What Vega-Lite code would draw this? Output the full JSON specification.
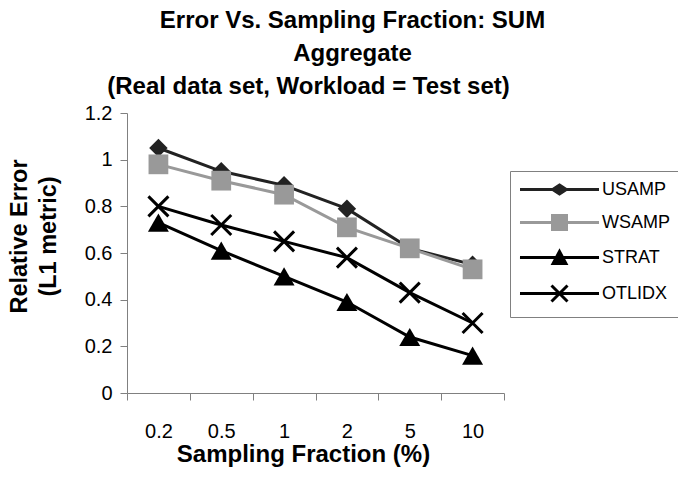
{
  "$schema": "https://vega.github.io/schema/vega-lite/v6.json",
  "width": 377,
  "height": 280,
  "autosize": "none",
  "padding": {"left": 127, "top": 113, "right": 174, "bottom": 86},
  "background": "white",
  "title": {
    "text": ["Error Vs. Sampling Fraction: SUM", "Aggregate"],
    "font": "Liberation Sans",
    "fontSize": 24,
    "fontWeight": "bold",
    "color": "black",
    "lineHeight": 33,
    "anchor": "middle",
    "frame": "group",
    "dx": 37,
    "offset": 8
  },
  "data": {
    "values": [
      {"series": "USAMP", "frac": 0.2, "err": 1.05},
      {"series": "USAMP", "frac": 0.5, "err": 0.95},
      {"series": "USAMP", "frac": 1, "err": 0.89},
      {"series": "USAMP", "frac": 2, "err": 0.79},
      {"series": "USAMP", "frac": 5, "err": 0.62},
      {"series": "USAMP", "frac": 10, "err": 0.55},
      {"series": "WSAMP", "frac": 0.2, "err": 0.98},
      {"series": "WSAMP", "frac": 0.5, "err": 0.91},
      {"series": "WSAMP", "frac": 1, "err": 0.85},
      {"series": "WSAMP", "frac": 2, "err": 0.71},
      {"series": "WSAMP", "frac": 5, "err": 0.62},
      {"series": "WSAMP", "frac": 10, "err": 0.53},
      {"series": "STRAT", "frac": 0.2, "err": 0.73},
      {"series": "STRAT", "frac": 0.5, "err": 0.61},
      {"series": "STRAT", "frac": 1, "err": 0.50},
      {"series": "STRAT", "frac": 2, "err": 0.39},
      {"series": "STRAT", "frac": 5, "err": 0.24},
      {"series": "STRAT", "frac": 10, "err": 0.16},
      {"series": "OTLIDX", "frac": 0.2, "err": 0.80},
      {"series": "OTLIDX", "frac": 0.5, "err": 0.72},
      {"series": "OTLIDX", "frac": 1, "err": 0.65},
      {"series": "OTLIDX", "frac": 2, "err": 0.58},
      {"series": "OTLIDX", "frac": 5, "err": 0.43},
      {"series": "OTLIDX", "frac": 10, "err": 0.30}
    ]
  },
  "encoding": {
    "y": {
      "field": "err",
      "type": "quantitative",
      "scale": {"domain": [0, 1.2], "nice": false, "zero": true},
      "axis": {
        "values": [0, 0.2, 0.4, 0.6, 0.8, 1, 1.2],
        "format": "~g",
        "labelFontSize": 20,
        "tickSize": 7,
        "labelPadding": 8,
        "title": ["Relative Error", "(L1 metric)"],
        "titleFontSize": 23.5,
        "titleFontWeight": "bold",
        "titleLineHeight": 29,
        "titleX": -96,
        "titleY": 123,
        "titleAngle": 270,
        "titleAlign": "center",
        "titleBaseline": "bottom"
      }
    }
  },
  "layer": [
    {
      "mark": {"type": "line", "strokeWidth": 3},
      "encoding": {
        "x": {
          "field": "frac",
          "type": "ordinal",
          "scale": {"type": "band", "paddingInner": 0, "paddingOuter": 0},
          "axis": {
            "labelAngle": 0,
            "labelFontSize": 20,
            "tickSize": 7,
            "labelPadding": 37,
            "labelBaseline": "alphabetic",
            "tickBand": "extent",
            "title": "Sampling Fraction (%)",
            "titleFontSize": 24,
            "titleFontWeight": "bold",
            "titleX": 176,
            "titleY": 68,
            "titleBaseline": "alphabetic",
            "titleAlign": "center"
          }
        },
        "color": {
          "field": "series",
          "type": "nominal",
          "sort": ["USAMP", "WSAMP", "STRAT", "OTLIDX"],
          "scale": {"domain": ["USAMP", "WSAMP", "STRAT", "OTLIDX"], "range": ["#222222", "#999999", "#000000", "#000000"]},
          "legend": {
            "orient": "none",
            "direction": "vertical",
            "legendX": 383,
            "legendY": 58,
            "title": null,
            "padding": 9,
            "strokeColor": "#808080",
            "fillColor": "white",
            "symbolSize": 256,
            "symbolStrokeWidth": 3,
            "symbolOffset": 31,
            "labelOffset": 33,
            "rowPadding": 9,
            "labelFont": "Liberation Sans",
            "labelFontSize": 18,
            "labelColor": "black",
            "labelLimit": 200,
            "encode": {
              "symbols": {
                "update": {
                  "shape": {"signal": "datum.value === 'USAMP' ? 'M-4.94,0H4.94M0,-0.55L0.85,0L0,0.55L-0.85,0Z' : datum.value === 'WSAMP' ? 'M-4.94,0H4.94M-0.875,-0.875H0.875V0.875H-0.875Z' : datum.value === 'STRAT' ? 'M-4.94,0H4.94M0,-0.75L0.8,0.75H-0.8Z' : 'M-4.94,0H4.94M-1,-1L1,1M-1,1L1,-1'"},
                  "fill": {"scale": "color", "field": "value"},
                  "stroke": {"scale": "color", "field": "value"}
                }
              }
            }
          }
        }
      }
    },
    {
      "transform": [{"filter": "datum.series !== 'OTLIDX'"}],
      "mark": {"type": "point", "filled": true, "opacity": 1},
      "encoding": {
        "x": {"field": "frac", "type": "ordinal", "axis": null},
        "color": {"field": "series", "type": "nominal", "legend": null},
        "shape": {
          "field": "series",
          "type": "nominal",
          "scale": {"domain": ["USAMP", "WSAMP", "STRAT"], "range": ["diamond", "square", "triangle-up"]},
          "legend": null
        },
        "size": {
          "field": "series",
          "type": "nominal",
          "scale": {"domain": ["USAMP", "WSAMP", "STRAT"], "range": [340, 440, 480]},
          "legend": null
        }
      }
    },
    {
      "transform": [{"filter": "datum.series === 'OTLIDX'"}],
      "mark": {"type": "point", "shape": "M-1,-1L1,1M-1,1L1,-1", "size": 400, "strokeWidth": 3, "filled": false, "opacity": 1, "color": "black"},
      "encoding": {
        "x": {
          "field": "frac",
          "type": "ordinal",
          "axis": {
            "orient": "top",
            "domain": false,
            "ticks": false,
            "labels": false,
            "title": "(Real data set, Workload = Test set)",
            "titleFontSize": 24,
            "titleFontWeight": "bold",
            "titleX": 181,
            "titleY": -20,
            "titleAlign": "center",
            "titleBaseline": "alphabetic"
          }
        }
      }
    }
  ],
  "resolve": {"axis": {"x": "independent"}},
  "config": {
    "view": {"stroke": null},
    "font": "Liberation Sans",
    "axis": {
      "grid": false,
      "domainColor": "#808080",
      "tickColor": "#808080",
      "labelColor": "black",
      "titleColor": "black",
      "labelFont": "Liberation Sans",
      "titleFont": "Liberation Sans"
    }
  }
}
